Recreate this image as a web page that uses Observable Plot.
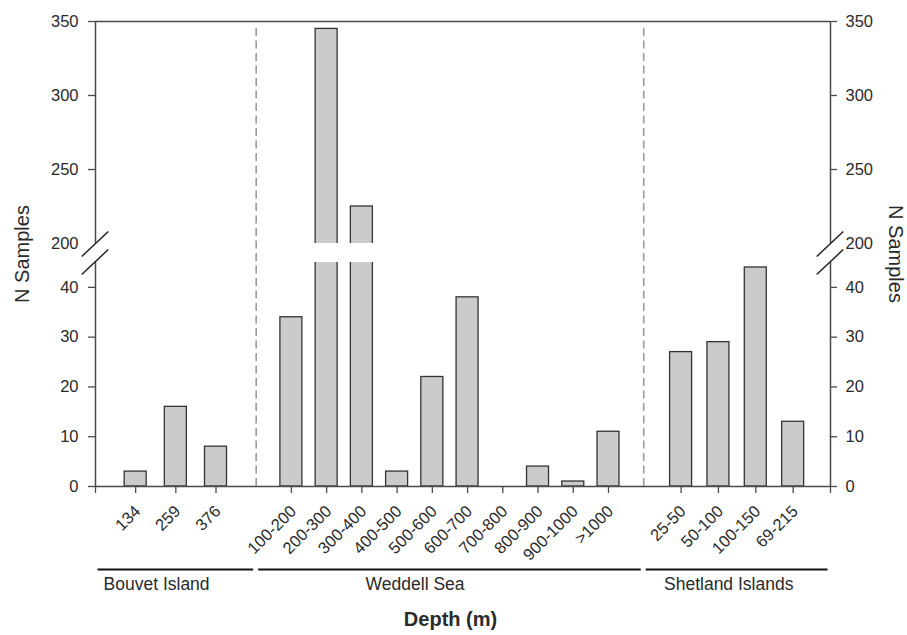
<!DOCTYPE html>
<html><head><meta charset="utf-8">
<script src="https://cdn.jsdelivr.net/npm/d3@7"></script>
<script src="https://cdn.jsdelivr.net/npm/@observablehq/plot@0.6"></script>
<style>body{margin:0;background:#fff;}</style>
</head><body><div id="chart"></div>
<script>
// ---------- data ----------
const groups = ["Bouvet Island", "Weddell Sea", "Shetland Islands"];
const bouvetDepths = ["134", "259", "376"];
const bouvetSamples = [3, 16, 8];
const weddellDepths = ["100-200", "200-300", "300-400", "400-500", "500-600", "600-700", "700-800", "800-900", "900-1000", ">1000"];
const weddellSamples = [34, 345, 225, 3, 22, 38, 0, 4, 1, 11];
const shetlandDepths = ["25-50", "50-100", "100-150", "69-215"];
const shetlandSamples = [27, 29, 44, 13];
const yTicks = [0, 10, 20, 30, 40, 200, 250, 300, 350];
const yBreak = [45, 200];
const yMax = 350;
const xTitle = "Depth (m)";
const yTitle = "N Samples";

// ---------- layout ----------
const W = 907, H = 635, mL = 95, mR = 77, mT = 21, mB = 149;
const groupShare = [0.2186, 0.5273, 0.2541];
const groupLabelAt = [0.38, 0.41, 0.455];
const innerW = W - mL - mR, innerH = H - mT - mB;
const lowerPx = 224, gapPx = 19, upperPx = innerH - lowerPx - gapPx;
const hw = 11 / innerW;
const FONT = "Liberation Sans, Arial, sans-serif";

// broken-axis scale transform (value -> display units)
const tf = v => v <= yBreak[0] ? v * lowerPx / yBreak[0]
  : v >= yBreak[1] ? lowerPx + gapPx + (v - yBreak[1]) * upperPx / (yMax - yBreak[1])
  : lowerPx + (v - yBreak[0]) * gapPx / (yBreak[1] - yBreak[0]);
const tickLabel = new Map(yTicks.map(t => [tf(t), String(t)]));
const fmtY = v => tickLabel.get(v) ?? "";
const ticksMain = yTicks.filter(t => t !== yBreak[1]).map(tf);
const ticksBreak = [tf(yBreak[1])];

const series = [[bouvetDepths, bouvetSamples], [weddellDepths, weddellSamples], [shetlandDepths, shetlandSamples]];
const rows = [];
const bounds = [0];
const groupRows = [];
let start = 0;
series.forEach(([cats, vals], g) => {
  const n = cats.length, share = groupShare[g];
  cats.forEach((c, i) => rows.push({group: groups[g], depth: c, n: vals[i], x: start + share * (i + 1) / (n + 1)}));
  groupRows.push({group: groups[g], x1: start, x2: start + share, lx: start + share * groupLabelAt[g]});
  start += share;
  bounds.push(start);
});
const pad = 2.5 / innerW;
const axisSegs = [{a: 0, b: yBreak[0]}, {a: yBreak[1], b: yMax}];
const axisColor = "#4a4a4a";

const chart = Plot.plot({
  width: W, height: H,
  marginLeft: mL, marginRight: mR, marginTop: mT, marginBottom: mB,
  style: {fontFamily: FONT, background: "#fff", color: "#2a2a2a", overflow: "visible"},
  x: {domain: [0, 1]},
  y: {transform: tf, domain: [0, innerH]},
  marks: [
    Plot.ruleX(bounds.slice(1, -1), {y1: 0, y2: yMax, stroke: "#9a9a9a", strokeWidth: 1.6, strokeDasharray: "8,4.5", insetBottom: -7}),
    Plot.rectY(rows.filter(d => d.n > 0), {x1: d => d.x - hw, x2: d => d.x + hw, y1: 0, y2: "n", fill: "#cbcbcb", stroke: "#333", strokeWidth: 1.3}),
    Plot.rectY(rows.filter(d => d.n > yBreak[0]), {x1: d => d.x - hw, x2: d => d.x + hw, y1: yBreak[0], y2: yBreak[1], fill: "#fff", insetLeft: -4, insetRight: -4}),
    Plot.ruleY([yMax], {stroke: axisColor, strokeWidth: 1.5}),
    Plot.ruleY([0], {stroke: axisColor, strokeWidth: 1.5}),
    Plot.ruleX(axisSegs, {x: () => 0, y1: "a", y2: "b", stroke: axisColor, strokeWidth: 1.5}),
    Plot.ruleX(axisSegs, {x: () => 1, y1: "a", y2: "b", stroke: axisColor, strokeWidth: 1.5}),
    Plot.axisY({anchor: "left", ticks: ticksMain, tickFormat: fmtY, tickSize: 7, tickPadding: 10, fontSize: 16.5, label: null, stroke: axisColor, strokeWidth: 1.3}),
    Plot.axisY({anchor: "left", ticks: ticksBreak, tickFormat: fmtY, tickSize: 0, tickPadding: 17, fontSize: 16.5, label: null}),
    Plot.axisY({anchor: "right", ticks: ticksMain, tickFormat: fmtY, tickSize: 6, tickPadding: 9, fontSize: 16.5, label: null, stroke: axisColor, strokeWidth: 1.3}),
    Plot.axisY({anchor: "right", ticks: ticksBreak, tickFormat: fmtY, tickSize: 0, tickPadding: 15, fontSize: 16.5, label: null}),
    Plot.axisX({ticks: [0, 1, ...rows.map(d => d.x)], tickSize: 7, tickFormat: () => "", label: null, stroke: axisColor, strokeWidth: 1.3}),
    Plot.text(rows, {x: "x", frameAnchor: "bottom", text: "depth", rotate: -45, textAnchor: "end", lineAnchor: "middle", dx: 2, dy: 22, fontSize: 16.5, fill: "#2a2a2a"}),
    Plot.ruleY(groupRows, {y: () => 0, x1: d => d.x1 + pad, x2: d => d.x2 - pad, dy: 83, stroke: "#111", strokeWidth: 2}),
    Plot.text(groupRows, {x: "lx", frameAnchor: "bottom", text: "group", dy: 103, fontSize: 17.5, fill: "#2a2a2a"}),
    Plot.text([xTitle], {x: () => 0.483, frameAnchor: "bottom", text: d => d, dy: 139, fontSize: 20, fontWeight: "bold", fill: "#2a2a2a"}),
    Plot.text([yTitle], {frameAnchor: "left", text: d => d, rotate: -90, textAnchor: "middle", dx: -73, fontSize: 20, fill: "#2a2a2a"}),
    Plot.text([yTitle], {frameAnchor: "right", text: d => d, rotate: 90, textAnchor: "middle", dx: 65, fontSize: 20, fill: "#2a2a2a"})
  ]
});

// axis break marks, placed through the chart's own scales
const sx = chart.scale("x"), sy = chart.scale("y");
const Y = Math.abs(sy.apply(tf(yMax)) - mT) < 1 ? v => sy.apply(tf(v)) : v => sy.apply(v);
const svg = d3.select(chart.tagName.toLowerCase() === "svg" ? chart : chart.querySelector("svg"));
const breaks = [];
[0, 1].forEach(xv => yBreak.forEach(yv => breaks.push({cx: sx.apply(xv), cy: Y(yv) + (yv === yBreak[1] ? 1 : 0)})));
svg.append("g").selectAll("line").data(breaks).join("line")
  .attr("x1", d => d.cx - 13.3).attr("y1", d => d.cy + 12.5)
  .attr("x2", d => d.cx + 13.3).attr("y2", d => d.cy - 12.5)
  .attr("stroke", "#222").attr("stroke-width", 1.5);

document.getElementById("chart").appendChild(chart);
</script>
</body></html>
